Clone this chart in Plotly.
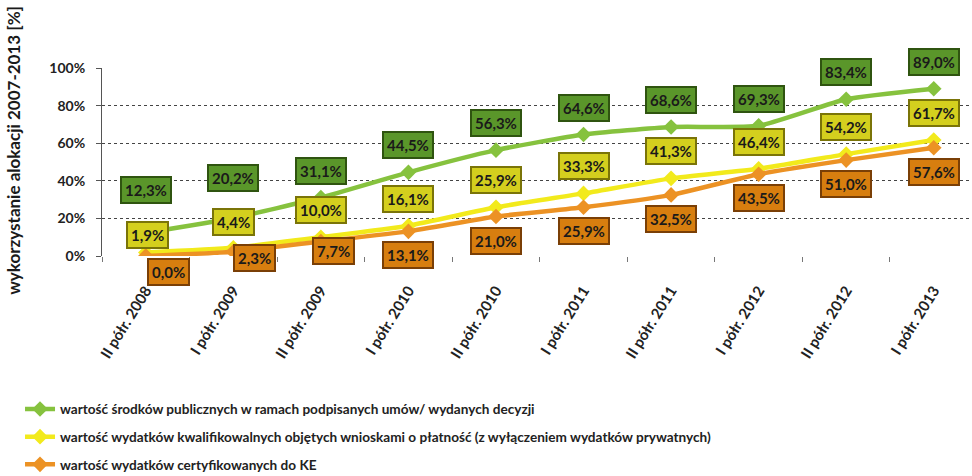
import plotly.graph_objects as go

# Half-year reporting periods
periods = ["II półr. 2008", "I półr. 2009", "II półr. 2009", "I półr. 2010",
           "II półr. 2010", "I półr. 2011", "II półr. 2011", "I półr. 2012",
           "II półr. 2012", "I półr. 2013"]

# Allocation use 2007-2013 [%]
contracts = [12.3, 20.2, 31.1, 44.5, 56.3, 64.6, 68.6, 69.3, 83.4, 89.0]
payment_claims = [1.9, 4.4, 10.0, 16.1, 25.9, 33.3, 41.3, 46.4, 54.2, 61.7]
certified = [0.0, 2.3, 7.7, 13.1, 21.0, 25.9, 32.5, 43.5, 51.0, 57.6]

series_names = [
    "wartość środków publicznych w ramach podpisanych umów/ wydanych decyzji",
    "wartość wydatków kwalifikowalnych objętych wnioskami o płatność (z wyłączeniem wydatków prywatnych)",
    "wartość wydatków certyfikowanych do KE",
]

y_ticks = [0, 20, 40, 60, 80, 100]
y_tick_text = ["0%", "20%", "40%", "60%", "80%", "100%"]

FONT = "Lato"
line_colors = ["#86c23e", "#f2ea1c", "#ec9224"]
box_fill = ["#5a962a", "#d4cf1e", "#d77e0f"]
box_edge = ["#2f5410", "#7a7408", "#7a3f06"]

# label placement: default pixel shift per series, plus nudges for crowded early points
default_shift = [27, 27, -24]
nudges = {
    (0, 0): (0, 43), (0, 1): (0, 40),
    (1, 0): (2, 17), (1, 1): (0, 26),
    (2, 0): (23, -16), (2, 1): (21, -6), (2, 2): (13, -9),
}

fig = go.Figure()
all_series = [contracts, payment_claims, certified]
for i, vals in enumerate(all_series):
    fig.add_trace(go.Scatter(
        x=periods, y=vals, name=series_names[i], mode="lines+markers",
        line=dict(color=line_colors[i], width=4.5, shape="spline", smoothing=0.5),
        marker=dict(symbol="diamond", size=12, color=line_colors[i]),
        legendgroup=f"g{i}",
    ))

for i, vals in enumerate(all_series):
    for j, v in enumerate(vals):
        dx, dy = nudges.get((i, j), (0, default_shift[i]))
        fig.add_annotation(
            x=periods[j], y=v, xref="x", yref="y",
            text=f"{v:.1f}%".replace(".", ","),
            showarrow=False, xshift=dx, yshift=dy,
            font=dict(family=FONT, size=15, color="#1a1a1a", weight="bold"),
            bgcolor=box_fill[i], bordercolor=box_edge[i], borderwidth=2, borderpad=3,
        )

fig.add_annotation(
    text="wykorzystanie alokacji 2007-2013 [%]", textangle=-90,
    xref="paper", yref="paper", x=-0.101, y=0.56, xanchor="center", yanchor="middle",
    showarrow=False,
    font=dict(family=FONT, size=17, color="#1a1a1a", weight="bold"),
)

fig.update_layout(
    width=972, height=476,
    margin=dict(l=102, r=0, t=68, b=220, autoexpand=False),
    paper_bgcolor="white", plot_bgcolor="white",
    font=dict(family=FONT, color="#222"),
    showlegend=True,
    legend=dict(
        xref="container", yref="container",
        x=0.0206, y=0.173, xanchor="left", yanchor="top",
        orientation="v", tracegroupgap=7, itemwidth=30,
        font=dict(family=FONT, size=13.6, color="#222", weight="bold"),
        bgcolor="rgba(0,0,0,0)",
    ),
    xaxis=dict(
        type="category", range=[-0.5, 9.437], tickson="boundaries",
        ticks="outside", ticklen=5, tickcolor="#777", showgrid=False,
        showline=False, zeroline=False, tickangle=-58, ticklabelstandoff=22,
        automargin=False,
        tickfont=dict(family=FONT, size=15, color="#222", weight="bold"),
    ),
    yaxis=dict(
        range=[0, 100], tickvals=y_ticks, ticktext=y_tick_text,
        showgrid=True, gridcolor="#444", griddash="dot", gridwidth=1,
        showline=True, linecolor="#555", linewidth=1,
        ticks="outside", ticklen=5, tickcolor="#555",
        zeroline=False, ticklabelstandoff=8, automargin=False,
        tickfont=dict(family=FONT, size=14, color="#222", weight="bold"),
    ),
)

fig.write_html("out.html")
